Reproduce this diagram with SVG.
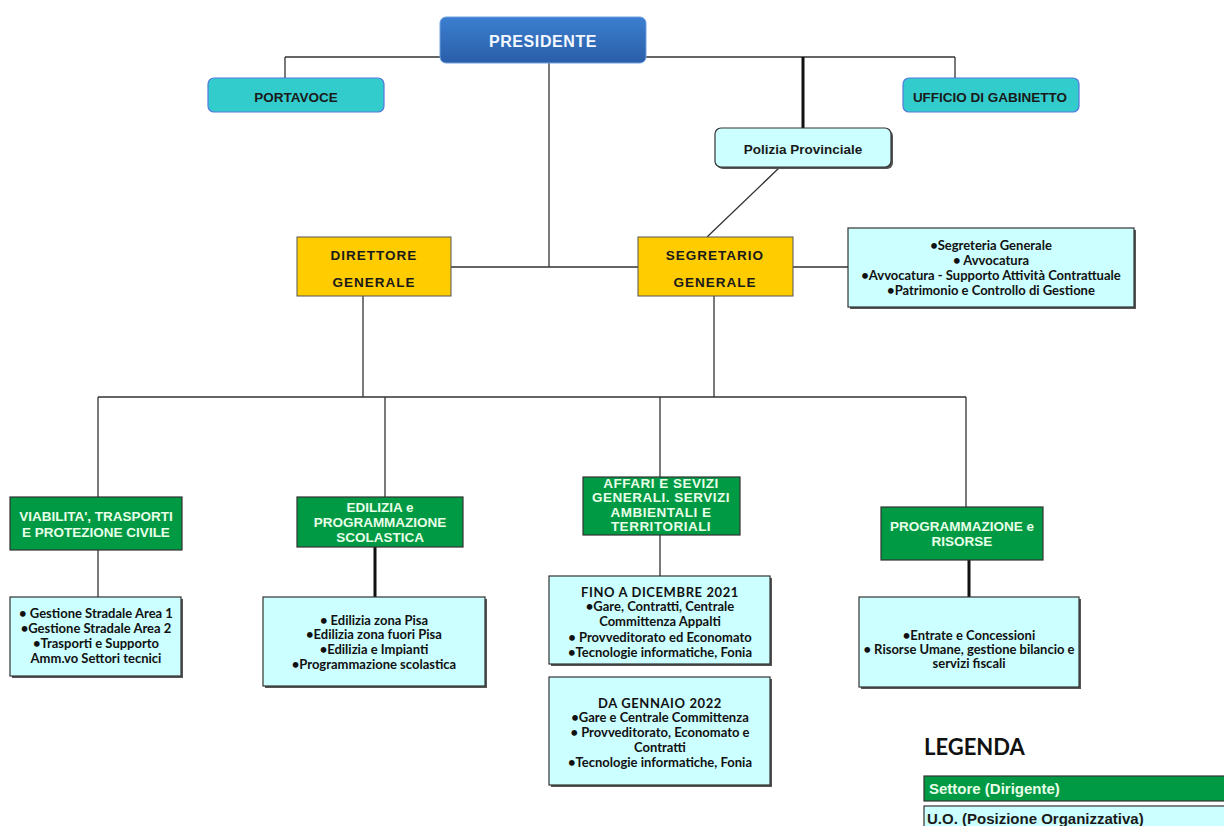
<svg xmlns="http://www.w3.org/2000/svg" width="1224" height="826" viewBox="0 0 1224 826">
<defs>
<linearGradient id="blue" x1="0" y1="0" x2="0" y2="1">
<stop offset="0" stop-color="#3b7fd0"/>
<stop offset="1" stop-color="#2a5ea8"/>
</linearGradient>
<style>
.ln{stroke:#333;stroke-width:1.3;fill:none}
.lnb{stroke:#111;stroke-width:3;fill:none}
.shadow{fill:#555}
.green{fill:#009a44;stroke:#333;stroke-width:1.2}
.yellow{fill:#ffcc00;stroke:#555;stroke-width:1}
.uo{fill:#ccffff;stroke:#333;stroke-width:1.2}
.cyan{fill:#33cccc;stroke:#5577dd;stroke-width:1.2}
.ht{font-family:"Liberation Sans",Arial,sans-serif;font-weight:bold;text-anchor:middle}
.wt{fill:#e8ffe8;font-size:13.5px}
.dk{fill:#1a1a1a;font-size:13.5px}
.bt{font-family:Lato,"Open Sans",sans-serif;font-weight:bold;font-size:13px;fill:#111;text-anchor:middle}
</style>
</defs>
<rect width="1224" height="826" fill="#fff"/>
<g id="connectors">
<path class="ln" d="M285 57H440M646 57H955M285 57V78M955 57V78M549 63V267M451 267H638M793 267H848M780 167L707 237M363 296V397M714 296V397M98 397H966M98 397V497M385 397V497M660 397V477M966 397V507M98 550V597M660 535V576"/>
<path class="lnb" d="M803 57V128M375 547V597M969 560V597"/>
</g>
<g id="presidente">
<rect x="440" y="17" width="206" height="46" rx="6" fill="url(#blue)" stroke="#6fa0e0" stroke-width="1"/>
<text class="ht" x="543" y="47" font-size="16" letter-spacing="0.6" fill="#f4f8ff">PRESIDENTE</text>
</g>
<g id="portavoce">
<rect class="cyan" x="208" y="78" width="176" height="34" rx="6"/>
<text class="ht dk" x="296" y="102">PORTAVOCE</text>
</g>
<g id="gabinetto">
<rect class="cyan" x="903" y="78" width="176" height="34" rx="6"/>
<text class="ht dk" x="990" y="102" font-size="13.8">UFFICIO DI GABINETTO</text>
</g>
<g id="polizia">
<rect class="shadow" x="717" y="130" width="176" height="39" rx="6"/>
<rect class="uo" x="715" y="128" width="176" height="39" rx="6"/>
<text class="ht dk" x="803" y="154">Polizia Provinciale</text>
</g>
<g id="direttore">
<rect class="yellow" x="297" y="237" width="154" height="59"/>
<text class="ht dk" x="374" y="260" font-size="11" letter-spacing="1">DIRETTORE</text>
<text class="ht dk" x="374" y="287" font-size="11" letter-spacing="1">GENERALE</text>
</g>
<g id="segretario">
<rect class="yellow" x="638" y="237" width="155" height="59"/>
<text class="ht dk" x="715" y="260" font-size="11" letter-spacing="1">SEGRETARIO</text>
<text class="ht dk" x="715" y="287" font-size="11" letter-spacing="1">GENERALE</text>
</g>
<g id="staff">
<rect class="shadow" x="850" y="230" width="286" height="79"/>
<rect class="uo" x="848" y="228" width="286" height="79"/>
<text class="bt" x="991" y="250">•Segreteria Generale</text>
<text class="bt" x="991" y="265">• Avvocatura</text>
<text class="bt" x="991" y="280">•Avvocatura - Supporto Attività Contrattuale</text>
<text class="bt" x="991" y="295">•Patrimonio e Controllo di Gestione</text>
</g>
<g id="viabilita">
<rect class="green" x="10" y="497" width="172" height="53"/>
<text class="ht wt" x="96" y="521">VIABILITA', TRASPORTI</text>
<text class="ht wt" x="96" y="537">E PROTEZIONE CIVILE</text>
</g>
<g id="edilizia">
<rect class="green" x="297" y="497" width="166" height="50"/>
<text class="ht wt" x="380" y="512">EDILIZIA e</text>
<text class="ht wt" x="380" y="527">PROGRAMMAZIONE</text>
<text class="ht wt" x="380" y="542">SCOLASTICA</text>
</g>
<g id="affari">
<rect class="green" x="583" y="477" width="157" height="58"/>
<text class="ht wt" x="661" y="488" font-size="12.5" letter-spacing="0.5">AFFARI E SEVIZI</text>
<text class="ht wt" x="661" y="502" font-size="12.5" letter-spacing="0.5">GENERALI. SERVIZI</text>
<text class="ht wt" x="661" y="517" font-size="12.5" letter-spacing="0.5">AMBIENTALI E</text>
<text class="ht wt" x="661" y="531" font-size="12.5" letter-spacing="0.5">TERRITORIALI</text>
</g>
<g id="programmazione">
<rect class="green" x="881" y="507" width="162" height="53"/>
<text class="ht wt" x="962" y="531">PROGRAMMAZIONE e</text>
<text class="ht wt" x="962" y="546">RISORSE</text>
</g>
<g id="viabilita-uo">
<rect class="shadow" x="12" y="599" width="171" height="79"/>
<rect class="uo" x="10" y="597" width="171" height="79"/>
<text class="bt" x="96" y="618">• Gestione Stradale Area 1</text>
<text class="bt" x="96" y="633">•Gestione Stradale Area 2</text>
<text class="bt" x="96" y="648">•Trasporti e Supporto</text>
<text class="bt" x="96" y="663">Amm.vo Settori tecnici</text>
</g>
<g id="edilizia-uo">
<rect class="shadow" x="265" y="599" width="222" height="89"/>
<rect class="uo" x="263" y="597" width="222" height="89"/>
<text class="bt" x="374" y="625">• Edilizia zona Pisa</text>
<text class="bt" x="374" y="639">•Edilizia zona fuori Pisa</text>
<text class="bt" x="374" y="654">•Edilizia e Impianti</text>
<text class="bt" x="374" y="669">•Programmazione scolastica</text>
</g>
<g id="affari-uo-2021">
<rect class="shadow" x="551" y="578" width="221" height="88"/>
<rect class="uo" x="549" y="576" width="221" height="88"/>
<text class="bt" x="660" y="597" font-size="14" letter-spacing="0.6">FINO A DICEMBRE 2021</text>
<text class="bt" x="660" y="611">•Gare, Contratti, Centrale</text>
<text class="bt" x="660" y="626">Committenza Appalti</text>
<text class="bt" x="660" y="642">• Provveditorato ed Economato</text>
<text class="bt" x="660" y="657">•Tecnologie informatiche, Fonia</text>
</g>
<g id="affari-uo-2022">
<rect class="shadow" x="551" y="679" width="221" height="108"/>
<rect class="uo" x="549" y="677" width="221" height="108"/>
<text class="bt" x="660" y="708" font-size="14" letter-spacing="0.6">DA GENNAIO 2022</text>
<text class="bt" x="660" y="722">•Gare e Centrale Committenza</text>
<text class="bt" x="660" y="737">• Provveditorato, Economato e</text>
<text class="bt" x="660" y="752">Contratti</text>
<text class="bt" x="660" y="767">•Tecnologie informatiche, Fonia</text>
</g>
<g id="programmazione-uo">
<rect class="shadow" x="861" y="599" width="220" height="90"/>
<rect class="uo" x="859" y="597" width="220" height="90"/>
<text class="bt" x="969" y="640">•Entrate e Concessioni</text>
<text class="bt" x="969" y="654">• Risorse Umane, gestione bilancio e</text>
<text class="bt" x="969" y="668">servizi fiscali</text>
</g>
<g id="legenda">
<text x="924" y="755" font-family="Lato,'Open Sans',sans-serif" font-weight="bold" font-size="22" fill="#111">LEGENDA</text>
<rect class="green" x="924" y="776" width="302" height="25"/>
<text x="929" y="794" font-family="'Liberation Sans',Arial,sans-serif" font-weight="bold" font-size="15" fill="#e8ffe8">Settore (Dirigente)</text>
<rect class="uo" x="924" y="806" width="302" height="24"/>
<text x="927" y="824" font-family="'Liberation Sans',Arial,sans-serif" font-weight="bold" font-size="15" fill="#1a1a1a">U.O. (Posizione Organizzativa)</text>
</g>
</svg>
